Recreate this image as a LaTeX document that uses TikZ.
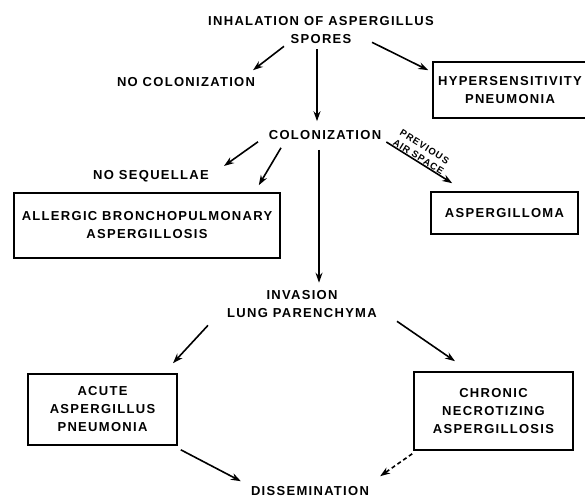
\documentclass[tikz,border=0pt]{standalone}
\usepackage{fontspec}
\newfontfamily\figfont{Liberation Sans}[LetterSpace=10]
\usetikzlibrary{arrows.meta}

\begin{document}
\begin{tikzpicture}[x=1pt,y=1pt,
  font=\figfont\bfseries\fontsize{13}{18}\selectfont,
  lbl/.style={align=center,inner sep=2pt},
  bx/.style={draw,line width=1.6pt,align=center,inner sep=0pt},
  ar/.style={-{Stealth[length=10pt,width=7pt]},line width=1.6pt}]
\useasboundingbox (0,0) rectangle (585,498);

% stages
\node[lbl] (spores) at (321,467.5) {INHALATION OF ASPERGILLUS\\SPORES};
\node[lbl] (nocol) at (186,416) {NO COLONIZATION};
\node[lbl] (col) at (325,363) {COLONIZATION};
\node[lbl] (noseq) at (151,322) {NO SEQUELLAE};
\node[lbl] (inv) at (302,193.5) {INVASION\\LUNG PARENCHYMA};
\node[lbl] (dissem) at (310,7) {DISSEMINATION};

% outcomes
\node[bx,minimum width=154pt,minimum height=56pt] (hyper) at (510,408) {HYPERSENSITIVITY\\PNEUMONIA};
\node[bx,minimum width=266pt,minimum height=65pt] (abpa) at (147,272.5) {ALLERGIC BRONCHOPULMONARY\\ASPERGILLOSIS};
\node[bx,minimum width=147pt,minimum height=42pt] (aspgl) at (504.5,285) {ASPERGILLOMA};
\node[bx,minimum width=149pt,minimum height=71pt] (acute) at (102.5,88.5) {ACUTE\\ASPERGILLUS\\PNEUMONIA};
\node[bx,minimum width=159pt,minimum height=78pt] (chronic) at (493.5,87) {CHRONIC\\NECROTIZING\\ASPERGILLOSIS};

\draw[ar] ([xshift=-37pt]spores.south) -- ([xshift=67pt,yshift=5pt]nocol.north);
\draw[ar] ([xshift=-4pt,yshift=-3pt]spores.south) -- ([xshift=-8pt,yshift=7pt]col.north);
\draw[ar] ([xshift=51pt,yshift=4pt]spores.south) -- ([xshift=-4pt,yshift=-9pt]hyper.north west);
\draw[ar] ([xshift=-67pt]col.south) -- ([xshift=73pt,yshift=2pt]noseq.north);
\draw[ar] ([xshift=-44pt,yshift=-6pt]col.south) -- ([xshift=-22pt,yshift=7pt]abpa.north east);
\draw[ar] ([xshift=-6pt,yshift=-8pt]col.south) -- ([xshift=17pt,yshift=6pt]inv.north);
\draw[ar] ([xshift=3pt,yshift=-7pt]col.east) --
  node[pos=0.45,sloped,above,inner sep=0.5pt,align=center,font=\figfont\bfseries\fontsize{9.5}{11.5}\selectfont]{PREVIOUS\\AIR SPACE}
  ([xshift=22pt,yshift=8pt]aspgl.north west);
\draw[ar] ([xshift=-94pt,yshift=-5pt]inv.south) -- ([xshift=70.5pt,yshift=10pt]acute.north);
\draw[ar] ([xshift=95pt,yshift=-1pt]inv.south) -- ([xshift=-38.5pt,yshift=10pt]chronic.north);
\draw[ar] ([xshift=3pt,yshift=-4pt]acute.south east) -- ([xshift=-8pt,yshift=3pt]dissem.north west);
\draw[ar,dash pattern=on 4pt off 3pt] ([xshift=-1pt,yshift=-3pt]chronic.south west) -- ([xshift=9pt,yshift=8pt]dissem.north east);
\end{tikzpicture}
\end{document}
